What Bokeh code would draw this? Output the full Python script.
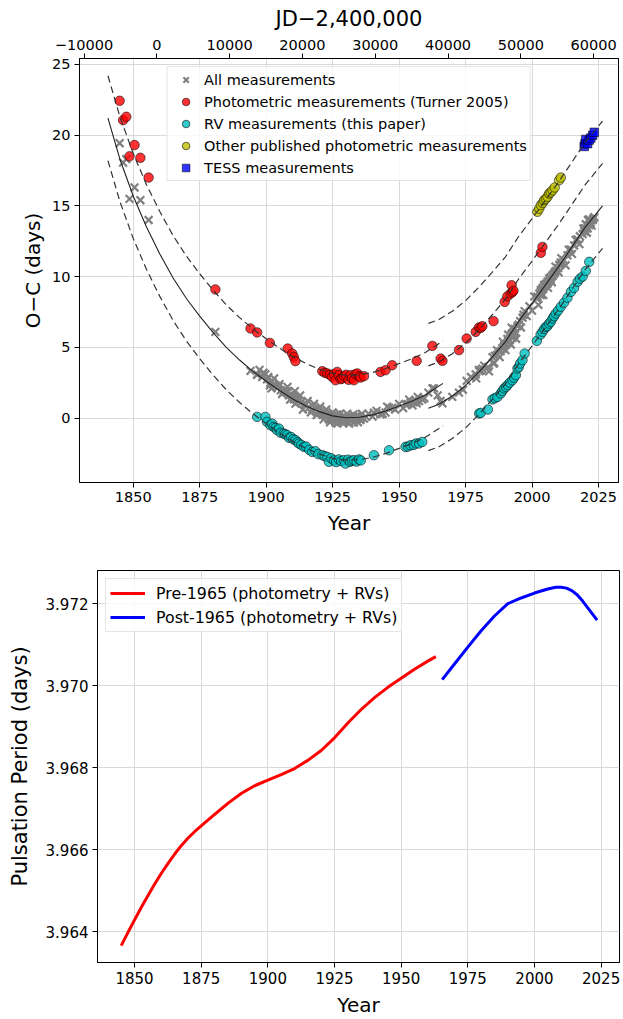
from bokeh.plotting import figure
from bokeh.models import (Range1d, LinearAxis, FixedTicker, CustomJSTickFormatter,
                          PrintfTickFormatter)
from bokeh.embed import file_html
from bokeh.resources import INLINE

# ---------------- data: O-C diagram ----------------
# offsets used for display (days)
OFF_TURNER = 3.0
OFF_RV = -3.0
OFF_OTHER = 6.0
OFF_TESS = 6.0

# fit curves (true O-C, days)
pre_fit_year = [1840.5, 1845, 1850, 1855, 1860, 1865, 1870, 1875, 1880, 1885, 1890, 1895,
                1900, 1905, 1910, 1915, 1920, 1925, 1930, 1935, 1940, 1945, 1950, 1955,
                1960, 1966.5]
pre_fit_oc = [21.2, 18.3, 15.7, 13.5, 11.6, 9.9, 8.45, 7.2, 6.05, 5.0, 4.1, 3.3,
              2.6, 1.95, 1.35, 0.85, 0.45, 0.15, 0.02, 0.05, 0.22, 0.5, 0.85, 1.2,
              1.65, 2.45]
post_fit_year = [1961, 1965, 1970, 1975, 1980, 1985, 1990, 1995, 2000, 2005, 2010, 2015,
                 2020, 2026.5]
post_fit_oc = [0.69, 0.97, 1.55, 2.3, 3.25, 4.3, 5.4, 6.85, 8.1, 9.4, 10.7, 12.1,
               13.5, 15.0]

# Photometric measurements (Turner 2005)
turner_year = [1844.9, 1846.2, 1847.4, 1848.6, 1850.5, 1852.7, 1855.8, 1880.9, 1894.1,
               1896.6, 1901.4, 1908.1, 1909.8, 1910.4, 1911.0, 1921.1, 1922.0, 1923.0,
               1924.0, 1924.8, 1925.5, 1926.1, 1926.7, 1927.3, 1928.0, 1928.6, 1929.3,
               1930.0, 1931.0, 1931.7, 1932.3, 1933.0, 1933.6, 1934.3, 1935.0, 1935.5,
               1936.8, 1943.0, 1944.9, 1947.4, 1956.6, 1962.5, 1965.6, 1966.3, 1972.5,
               1975.4, 1978.8, 1980.0, 1980.7, 1981.3, 1985.5, 1989.7, 1990.7, 1991.9,
               1992.3, 1992.6, 1993.0, 2003.3, 2003.9]
turner_oc = [19.43, 18.06, 18.3, 15.5, 16.3, 15.4, 14.0, 6.09, 3.33,
             3.05, 2.31, 1.91, 1.56, 1.32, 1.02, 0.31, 0.2, 0.15,
             0.05, -0.09, 0.1, -0.33, 0.26, 0.03, -0.25, -0.21, -0.05,
             0.05, -0.3, 0.03, -0.2, -0.33, 0.1, 0.15, -0.05, -0.14,
             -0.04, 0.26, 0.38, 0.73, 1.04, 2.1, 1.2, 1.04, 1.8,
             2.62, 3.09, 3.4, 3.37, 3.49, 3.85, 5.21, 5.6, 5.8,
             6.39, 5.9, 6.0, 8.68, 9.1]

# RV measurements (this paper)
rv_year = [1896.6, 1899.7, 1900.3, 1901.6, 1902.3, 1902.8, 1903.5, 1904.1, 1904.8, 1905.5,
           1906.6, 1907.2, 1907.9, 1908.6, 1909.4, 1910.2, 1911.0, 1911.8, 1912.3, 1913.2,
           1914.2, 1915.0, 1916.2, 1917.3, 1918.5, 1919.6, 1921.1, 1922.0, 1923.0, 1923.6,
           1924.5, 1925.5, 1926.3, 1927.3, 1928.2, 1929.2, 1929.8, 1930.8, 1931.5, 1932.2,
           1933.0, 1934.0, 1934.9, 1935.6, 1940.5, 1946.2, 1952.4, 1953.3, 1954.3, 1955.5,
           1956.4, 1957.5, 1958.7,
           1980.1, 1980.7, 1983.4, 1985.1, 1986.0, 1987.0, 1988.2, 1988.8, 1989.5, 1990.2,
           1990.8, 1991.6, 1992.6, 1993.2, 1993.9, 1994.5, 1995.0, 1995.5, 1996.4, 1997.2,
           2001.8, 2003.2, 2003.9, 2004.6, 2005.2, 2005.8, 2006.4, 2007.0, 2007.7, 2008.3,
           2008.9, 2009.8, 2010.8, 2012.0, 2013.3, 2014.6, 2015.8, 2017.1, 2018.0, 2019.0,
           2020.2, 2021.5]
rv_oc = [3.08, 3.08, 2.73, 2.49, 2.6, 2.37, 2.3, 2.14, 2.25, 1.95,
         1.9, 1.85, 1.79, 1.6, 1.65, 1.5, 1.43, 1.3, 1.19, 1.1,
         0.96, 0.98, 0.75, 0.6, 0.65, 0.45, 0.37, 0.3, 0.25, -0.1,
         0.15, 0.0, -0.12, 0.07, -0.05, 0.02, -0.22, 0.05, -0.1, -0.02,
         0.02, -0.08, 0.07, 0.0, 0.37, 0.72, 0.96, 0.98, 1.07, 1.1,
         1.2, 1.2, 1.31,
         3.32, 3.36, 3.6, 4.31, 4.4, 4.49, 4.73, 4.9, 5.09, 5.2,
         5.33, 5.5, 5.67, 5.85, 6.03, 6.5, 6.6, 6.85, 7.09, 7.56,
         8.45, 8.9, 9.09, 9.3, 9.44, 9.5, 9.68, 9.8, 10.04, 10.2,
         10.39, 10.6, 10.86, 11.15, 11.5, 11.92, 12.2, 12.63, 12.85, 13.0,
         13.4, 14.04]

# Other published photometric measurements
other_year = [2002.0, 2002.7, 2003.3, 2004.0, 2004.5, 2005.2, 2005.8, 2006.4, 2007.0,
              2007.7, 2008.5, 2010.2, 2010.8]
other_oc = [8.58, 8.8, 9.05, 9.2, 9.4, 9.5, 9.64, 9.87, 9.95,
            10.1, 10.3, 10.82, 11.0]

# TESS measurements
tess_year = [2019.6, 2019.9, 2020.2, 2020.9, 2021.5, 2022.1, 2022.8, 2023.4]
tess_oc = [13.2, 13.4, 13.7, 13.4, 13.65, 13.8, 14.0, 14.2]

# additional measurements shown only among "All measurements"
extra_year = [1897.5, 1898.5, 1899.0, 1900.8, 1902.0, 1903.0, 1905.0, 1906.0, 1908.0, 1909.0,
              1910.8, 1912.8, 1913.8, 1915.6, 1916.8, 1918.0, 1919.0, 1920.3, 1921.6, 1922.6,
              1924.0, 1925.0, 1926.8, 1927.8, 1929.0, 1930.4, 1931.2, 1932.8, 1934.5, 1936.0,
              1937.5, 1938.5, 1940.0, 1941.5, 1943.8, 1945.5, 1948.5, 1950.0, 1951.5, 1953.8,
              1955.0, 1957.0, 1959.5, 1961.0, 1963.1, 1964.5,
              1970.0, 1974.0, 1977.0, 1979.0, 1982.0, 1983.8, 1985.8, 1986.8, 1987.8, 1989.0,
              1990.0, 1991.0, 1992.0, 1993.5, 1994.0, 1995.8, 1996.8, 1998.0, 1999.0, 2000.0,
              2000.8, 2002.4, 2004.2, 2006.0, 2007.4, 2008.8, 2010.0, 2011.0, 2012.6, 2013.8,
              2015.0, 2016.4, 2017.8, 2019.3, 2020.6, 2021.0, 2022.4, 2023.0]
extra_oc = [3.4, 2.9, 3.2, 2.9, 2.1, 2.8, 2.4, 1.7, 2.2, 1.3,
            1.9, 1.6, 0.6, 1.2, 0.4, 1.0, 0.2, 0.8, -0.1, 0.6,
            -0.3, 0.4, -0.4, 0.3, -0.35, 0.3, -0.4, 0.25, -0.3, 0.3,
            0.1, 0.3, 0.1, 0.5, 0.3, 0.8, 0.6, 1.0, 0.7, 1.3,
            0.9, 1.5, 1.4, 1.8, 2.09, 1.6,
            1.5, 2.0, 2.9, 2.8, 3.7, 3.3, 3.9, 4.8, 4.3, 5.4,
            4.8, 5.9, 5.2, 6.3, 5.6, 6.4, 7.3, 7.2, 7.9, 7.6,
            8.6, 8.0, 8.7, 9.2, 9.6, 10.7, 10.3, 11.3, 10.8, 11.9,
            11.6, 12.6, 12.3, 13.4, 13.1, 14.0, 13.6, 14.1]

year_ticks = [1850, 1875, 1900, 1925, 1950, 1975, 2000, 2025]
oc_ticks = [0, 5, 10, 15, 20, 25]
jd_ticks = [-10000, 0, 10000, 20000, 30000, 40000, 50000, 60000]
JD_ZERO_YEAR = 1858.875   # JD 2,400,000
DAYS_PER_YEAR = 365.25

# ---------------- data: pulsation period ----------------
pre_period_year = [1845, 1847.5, 1850, 1852.5, 1855, 1857.5, 1860, 1862.5, 1865, 1867.5,
                   1870, 1872.5, 1875, 1880, 1885, 1890, 1895, 1900, 1905, 1910, 1915,
                   1920, 1925, 1930, 1935, 1940, 1945, 1950, 1955, 1960, 1963]
pre_period = [3.96366, 3.96398, 3.96429, 3.96459, 3.96488, 3.96516, 3.96542, 3.96566,
              3.96589, 3.96610, 3.96628, 3.96644, 3.96658, 3.96686, 3.96713, 3.96737,
              3.96756, 3.96770, 3.96783, 3.96798, 3.96818, 3.96842, 3.96873, 3.96909,
              3.96942, 3.96971, 3.96996, 3.97018, 3.97040, 3.97060, 3.97071]
post_period_year = [1965.4, 1970, 1975, 1980, 1985, 1990, 1995, 2000, 2005, 2008, 2010,
                    2012, 2014, 2016, 2018, 2020, 2023.5]
post_period = [3.97015, 3.97053, 3.97094, 3.97134, 3.97170, 3.97200, 3.97214, 3.97226,
               3.97236, 3.97240, 3.97240, 3.97238, 3.97232, 3.97222, 3.97207, 3.97190,
               3.97160]
period_ticks = [3.964, 3.966, 3.968, 3.970, 3.972]

FONT = "DejaVu Sans"


def style_axis(ax, label_size="20px", tick_size="14.5px", label_standoff=6):
    ax.axis_line_color = "black"
    ax.major_tick_line_color = "black"
    ax.minor_tick_line_color = None
    ax.major_tick_out = 5
    ax.major_tick_in = 0
    ax.major_label_text_font = FONT
    ax.major_label_text_font_size = tick_size
    ax.major_label_text_color = "black"
    ax.axis_label_text_font = FONT
    ax.axis_label_text_font_size = label_size
    ax.axis_label_text_font_style = "normal"
    ax.axis_label_text_color = "black"
    ax.major_label_standoff = 4
    ax.axis_label_standoff = label_standoff


# ---------------- top figure ----------------
x0, x1 = 1829.8, 2032.5
p1 = figure(width=623, height=540, x_range=Range1d(x0, x1), y_range=Range1d(-4.56, 25.42),
            output_backend="svg", toolbar_location=None,
            min_border_left=79, min_border_right=5, min_border_top=58, min_border_bottom=58)
p1.outline_line_color = "black"
p1.outline_line_alpha = 1
p1.grid.grid_line_color = "#d9d9d9"
p1.xaxis.ticker = FixedTicker(ticks=year_ticks)
p1.yaxis.ticker = FixedTicker(ticks=oc_ticks)
p1.xaxis.axis_label = "Year"
p1.yaxis.axis_label = "O\u2212C (days)"
style_axis(p1.xaxis[0])
style_axis(p1.yaxis[0], label_standoff=4)

p1.extra_x_ranges = {"jd": Range1d((x0 - JD_ZERO_YEAR) * DAYS_PER_YEAR,
                                   (x1 - JD_ZERO_YEAR) * DAYS_PER_YEAR)}
jd_axis = LinearAxis(x_range_name="jd", axis_label="JD\u22122,400,000",
                     ticker=FixedTicker(ticks=jd_ticks),
                     formatter=CustomJSTickFormatter(
                         code="return (tick < 0 ? '\\u2212' : '') + Math.abs(tick).toFixed(0);"))
style_axis(jd_axis, label_size="21px")
p1.add_layout(jd_axis, "above")

all_year = turner_year + rv_year + other_year + tess_year + extra_year
all_oc = turner_oc + rv_oc + other_oc + tess_oc + extra_oc

p1.scatter(all_year, all_oc, marker="x", size=11, line_color="#808080", line_width=2.2,
           legend_label="All measurements")
p1.scatter(turner_year, [v + OFF_TURNER for v in turner_oc], marker="circle", size=9.5,
           fill_color="#ff0000", fill_alpha=0.8, line_color="black", line_width=0.7,
           line_alpha=0.8, legend_label="Photometric measurements (Turner 2005)")
p1.scatter(rv_year, [v + OFF_RV for v in rv_oc], marker="circle", size=9.5,
           fill_color="#00bfbf", fill_alpha=0.8, line_color="black", line_width=0.7,
           line_alpha=0.8, legend_label="RV measurements (this paper)")
p1.scatter(other_year, [v + OFF_OTHER for v in other_oc], marker="circle", size=9.5,
           fill_color="#bfbf00", fill_alpha=0.8, line_color="black", line_width=0.7,
           line_alpha=0.8, legend_label="Other published photometric measurements")
p1.scatter(tess_year, [v + OFF_TESS for v in tess_oc], marker="square", size=8.5,
           fill_color="#0000ff", fill_alpha=0.8, line_color="black", line_width=0.7,
           line_alpha=0.8, legend_label="TESS measurements")

DASH = "7 4"
p1.line(pre_fit_year, pre_fit_oc, line_color="#222222", line_width=1.1)
p1.line(pre_fit_year, [v + OFF_TURNER for v in pre_fit_oc], line_color="#333333",
        line_width=1.2, line_dash=DASH)
p1.line(pre_fit_year, [v + OFF_RV for v in pre_fit_oc], line_color="#333333",
        line_width=1.2, line_dash=DASH)
p1.line(post_fit_year, post_fit_oc, line_color="#222222", line_width=1.1)
p1.line(post_fit_year, [v + OFF_TURNER for v in post_fit_oc], line_color="#333333",
        line_width=1.2, line_dash=DASH)
p1.line(post_fit_year, [v + OFF_RV for v in post_fit_oc], line_color="#333333",
        line_width=1.2, line_dash=DASH)
p1.line(post_fit_year, [v + OFF_OTHER for v in post_fit_oc], line_color="#333333",
        line_width=1.2, line_dash=DASH)

lg = p1.legend[0]
lg.location = "top_center"
lg.margin = 8
lg.padding = 3
lg.spacing = 3
lg.label_height = 19
lg.glyph_height = 19
lg.glyph_width = 30
lg.label_standoff = 4
lg.label_text_font = FONT
lg.label_text_font_size = "14.5px"
lg.label_text_color = "black"
lg.border_line_color = "#cccccc"
lg.background_fill_alpha = 0.8

# ---------------- bottom figure ----------------
p2 = figure(width=623, height=479, x_range=Range1d(1836.1, 2031.9),
            y_range=Range1d(3.96325, 3.97281),
            output_backend="svg", toolbar_location=None,
            min_border_left=97, min_border_right=4, min_border_top=30, min_border_bottom=53)
p2.outline_line_color = "black"
p2.outline_line_alpha = 1
p2.grid.grid_line_color = "#d9d9d9"
p2.xaxis.ticker = FixedTicker(ticks=year_ticks)
p2.yaxis.ticker = FixedTicker(ticks=period_ticks)
p2.yaxis.formatter = PrintfTickFormatter(format="%.3f")
p2.xaxis.axis_label = "Year"
p2.yaxis.axis_label = "Pulsation Period (days)"
style_axis(p2.xaxis[0], tick_size="15px")
style_axis(p2.yaxis[0], label_size="21px", tick_size="15px", label_standoff=11)

p2.line(pre_period_year, pre_period, line_color="#ff0000", line_width=3,
        legend_label="Pre-1965 (photometry + RVs)")
p2.line(post_period_year, post_period, line_color="#0000ff", line_width=3,
        legend_label="Post-1965 (photometry + RVs)")

lg2 = p2.legend[0]
lg2.location = "top_left"
lg2.margin = 8
lg2.padding = 4
lg2.spacing = 4
lg2.label_height = 20
lg2.glyph_height = 20
lg2.glyph_width = 35
lg2.label_standoff = 11
lg2.label_text_font = FONT
lg2.label_text_font_size = "15.8px"
lg2.label_text_color = "black"
lg2.border_line_color = "#cccccc"
lg2.background_fill_alpha = 0.8

open("out.html", "w").write(file_html([p1, p2], INLINE))
